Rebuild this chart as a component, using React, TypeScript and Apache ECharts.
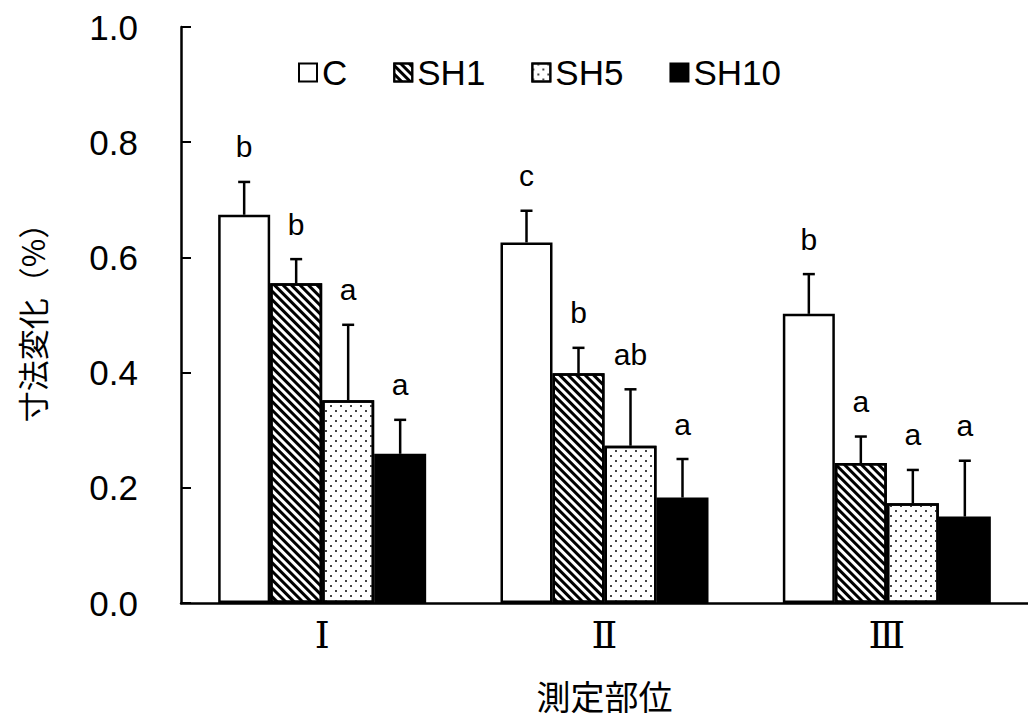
import React, { useEffect, useRef } from "react";
import * as echarts from "echarts";

const categories = ["Ⅰ", "Ⅱ", "Ⅲ"];
const seriesNames = ["C", "SH1", "SH5", "SH10"];
const meanC = [0.674, 0.626, 0.502];
const meanSH1 = [0.555, 0.399, 0.243];
const meanSH5 = [0.352, 0.273, 0.173];
const meanSH10 = [0.259, 0.183, 0.15];
const errC = [0.057, 0.055, 0.069];
const errSH1 = [0.042, 0.044, 0.046];
const errSH5 = [0.131, 0.098, 0.058];
const errSH10 = [0.059, 0.067, 0.097];
const lettersC = ["b", "c", "b"];
const lettersSH1 = ["b", "b", "a"];
const lettersSH5 = ["a", "ab", "a"];
const lettersSH10 = ["a", "a", "a"];
const yTicks = [0, 0.2, 0.4, 0.6, 0.8, 1.0];

const means = [meanC, meanSH1, meanSH5, meanSH10];
const errs = [errC, errSH1, errSH5, errSH10];
const letters = [lettersC, lettersSH1, lettersSH5, lettersSH10];

const SANS = "'Liberation Sans', Arial, sans-serif";
const CJK = "'Noto Sans CJK JP', 'Noto Sans CJK SC', sans-serif";
const BAR_W = 52;

const styles: any[] = [
  { color: "#ffffff" },
  {
    color: "#ffffff",
    decal: {
      symbol: "rect",
      symbolSize: 1,
      color: "#000000",
      dashArrayX: [1, 0],
      dashArrayY: [3, 3],
      rotation: Math.PI / 4,
    },
  },
  {
    color: "#ffffff",
    decal: {
      symbol: "rect",
      symbolSize: 1,
      color: "#444444",
      dashArrayX: [
        [2, 8],
        [0, 5, 2, 3],
      ],
      dashArrayY: [2, 3],
      rotation: 0,
    },
  },
  { color: "#000000" },
];

export default function App() {
  const ref = useRef<HTMLDivElement>(null);
  useEffect(() => {
    if (!ref.current) return;
    const chart = echarts.init(ref.current, null, { renderer: "svg" });
    const barSeries = seriesNames.map((name, si) => ({
      name,
      type: "bar",
      data: means[si],
      barWidth: BAR_W,
      barGap: "0%",
      itemStyle: { ...styles[si], borderColor: "#000", borderWidth: 2.5 },
      z: 2,
    }));
    const errSeries = seriesNames.map((name, si) => ({
      name: "err-" + name,
      type: "custom",
      z: 3,
      data: means[si].map((m, i) => [i, m, errs[si][i]]),
      renderItem: (params: any, api: any) => {
        const cat = api.value(0);
        const m = api.value(1);
        const e = api.value(2);
        const base = api.coord([cat, m]);
        const top = api.coord([cat, m + e]);
        const x = base[0] + (si - 1.5) * BAR_W;
        const ls = { stroke: "#000", lineWidth: 2.5 };
        return {
          type: "group",
          children: [
            { type: "line", shape: { x1: x, y1: base[1], x2: x, y2: top[1] }, style: ls },
            { type: "line", shape: { x1: x - 6, y1: top[1], x2: x + 6, y2: top[1] }, style: ls },
            {
              type: "text",
              style: {
                text: letters[si][params.dataIndex],
                x,
                y: top[1] - 20,
                align: "center",
                verticalAlign: "bottom",
                fontSize: 30,
                fontFamily: SANS,
                fill: "#000",
              },
            },
          ],
        };
      },
    }));
    chart.setOption({
      animation: false,
      backgroundColor: "#ffffff",
      legend: {
        data: seriesNames,
        left: 298,
        top: 55,
        padding: 0,
        itemWidth: 18,
        itemHeight: 18,
        itemGap: 46,
        icon: "rect",
        itemStyle: { borderWidth: 2, borderColor: "#000" },
        textStyle: { fontSize: 35, fontFamily: SANS, color: "#000" },
      },
      grid: { left: 181, top: 27, width: 852, height: 576 },
      xAxis: {
        type: "category",
        data: categories,
        axisLine: { lineStyle: { color: "#000", width: 2.5 } },
        axisTick: { inside: true, length: 10, lineStyle: { color: "#000", width: 2 } },
        axisLabel: { fontSize: 38, fontFamily: "'DejaVu Serif', serif", color: "#000", margin: 13 },
        name: "測定部位",
        nameLocation: "middle",
        nameGap: 74,
        nameTextStyle: { fontSize: 34, lineHeight: 36, fontFamily: CJK, color: "#000" },
      },
      yAxis: {
        type: "value",
        min: yTicks[0],
        max: yTicks[yTicks.length - 1],
        interval: 0.2,
        splitLine: { show: false },
        axisLine: { show: true, lineStyle: { color: "#000", width: 2.5 } },
        axisTick: { show: true, inside: true, length: 10, lineStyle: { color: "#000", width: 2 } },
        axisLabel: {
          fontSize: 35,
          fontFamily: SANS,
          color: "#000",
          margin: 43,
          formatter: (v: number) => v.toFixed(1),
        },
        name: "寸法変化（%）",
        nameLocation: "middle",
        nameGap: 134,
        nameTextStyle: { fontSize: 31, fontFamily: CJK, color: "#000" },
      },
      series: [...barSeries, ...errSeries],
    });
    return () => chart.dispose();
  }, []);
  return (
    <div
      ref={ref}
      style={{ position: "absolute", left: 0, top: 0, width: 1028, height: 720, background: "#fff" }}
    />
  );
}
